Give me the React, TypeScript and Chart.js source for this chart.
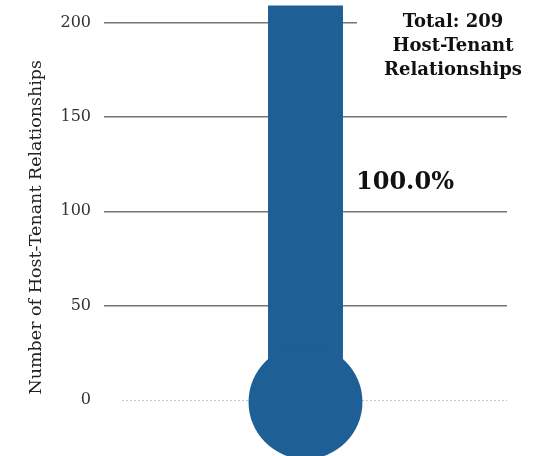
import React, { useEffect, useRef } from 'react';
import { Chart, registerables } from 'chart.js';

Chart.register(...registerables);

const categories = ['Host-Tenant Relationships'];
const values = [209];
const tickStep = 50;
const axisMin = 0;
const axisMax = 200;
const percentLabels = ['100.0%'];
const titleLines = ['Total: 209', 'Host-Tenant', 'Relationships'];
const axisTitle = 'Number of Host-Tenant Relationships';

const BAR_COLOR = '#1e5f96';
const SERIF = '"DejaVu Serif", "Liberation Serif", serif';

const thermoPlugin = {
  id: 'thermo',
  beforeDatasetsDraw(chart: any) {
    const { ctx, chartArea, scales } = chart;
    const y0 = Math.round(scales.y.getPixelForValue(0)) + 0.5;
    ctx.save();
    ctx.strokeStyle = '#c4c4c4';
    ctx.lineWidth = 1;
    ctx.setLineDash([2, 2]);
    ctx.beginPath();
    ctx.moveTo(chartArea.left + 18, y0);
    ctx.lineTo(chartArea.right, y0);
    ctx.stroke();
    ctx.restore();

    // axis title
    ctx.save();
    ctx.translate(36, (chartArea.top + chartArea.bottom) / 2 + 16);
    ctx.rotate(-Math.PI / 2);
    ctx.font = `17.5px ${SERIF}`;
    ctx.fillStyle = '#222';
    ctx.textAlign = 'center';
    ctx.textBaseline = 'middle';
    ctx.fillText(axisTitle, 0, 0);
    ctx.restore();
  },
  afterDatasetsDraw(chart: any) {
    const { ctx, chartArea, scales } = chart;
    const meta = chart.getDatasetMeta(0);
    const bar = meta.data[0];
    const { x, width } = bar.getProps(['x', 'width'], true);
    const y0 = scales.y.getPixelForValue(0);
    ctx.save();
    ctx.fillStyle = BAR_COLOR;
    ctx.beginPath();
    ctx.arc(x, y0 + 2, width * 0.76, 0, Math.PI * 2);
    ctx.fill();

    ctx.font = `bold 24px ${SERIF}`;
    ctx.fillStyle = '#111';
    ctx.textAlign = 'left';
    ctx.textBaseline = 'middle';
    ctx.fillText(percentLabels[0], x + width / 2 + 13, scales.y.getPixelForValue(values[0] * 0.55));

    // title box
    const cx = chartArea.right - 54;
    ctx.fillStyle = '#ffffff';
    ctx.fillRect(x + width / 2 + 14, 0, chart.width, chartArea.top + 60);
    ctx.font = `bold 18px ${SERIF}`;
    ctx.fillStyle = '#111';
    ctx.textAlign = 'center';
    titleLines.forEach((t, i) => {
      ctx.fillText(t, cx, chartArea.top + i * 24);
    });
    ctx.restore();
  },
};

export default function App() {
  const ref = useRef<HTMLCanvasElement | null>(null);
  useEffect(() => {
    document.body.style.margin = '0';
    document.body.style.background = '#ffffff';
    const chart = new Chart(ref.current as HTMLCanvasElement, {
      type: 'bar',
      data: {
        labels: categories,
        datasets: [
          {
            data: values,
            backgroundColor: BAR_COLOR,
            barPercentage: 0.186,
            categoryPercentage: 1,
            clip: false as any,
          },
        ],
      },
      options: {
        animation: false,
        responsive: true,
        maintainAspectRatio: false,
        layout: { padding: { top: 22, right: 26, bottom: 56, left: 0 } },
        plugins: { legend: { display: false }, tooltip: { enabled: false } },
        scales: {
          x: { display: false },
          y: {
            min: axisMin,
            max: axisMax,
            ticks: {
              stepSize: tickStep,
              font: { family: SERIF, size: 16 },
              color: '#333',
              padding: 13,
            },
            grid: {
              color: (c: any) => (c.tick && c.tick.value === 0 ? 'rgba(0,0,0,0)' : '#757575'),
              lineWidth: 1.5,
              drawTicks: false,
            },
            border: { display: false },
            afterFit(s: any) {
              s.width = 104;
            },
          },
        },
      },
      plugins: [thermoPlugin],
    });
    return () => chart.destroy();
  }, []);
  return (
    <div style={{ width: 533, height: 456, position: 'relative' }}>
      <canvas ref={ref} />
    </div>
  );
}
